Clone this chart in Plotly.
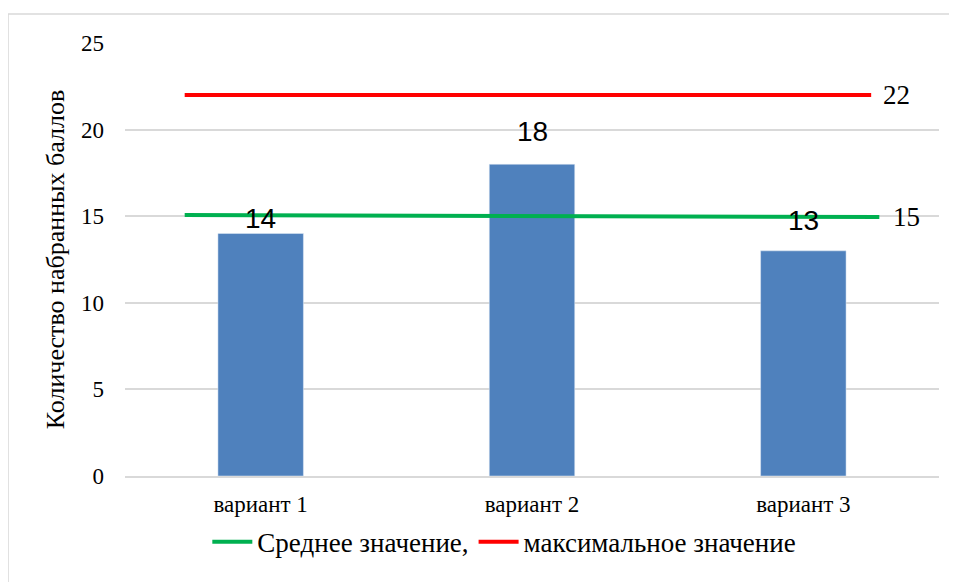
import plotly.graph_objects as go

# data
categories = ["вариант 1", "вариант 2", "вариант 3"]
scores = [14, 18, 13]

mean_x = [-0.28, 2.28]
mean_y = [15.07, 14.95]
mean_label = "15"

max_x = [-0.28, 2.25]
max_y = [22, 22]
max_label = "22"

y_ticks = [0, 5, 10, 15, 20, 25]

SERIF = "Liberation Serif"
SANS = "Liberation Sans"

fig = go.Figure()

fig.add_trace(go.Bar(
    x=list(range(len(categories))),
    y=scores,
    width=0.315,
    marker=dict(color="#4f81bd"),
    showlegend=False,
))

fig.add_trace(go.Scatter(
    x=mean_x, y=mean_y, mode="lines",
    line=dict(color="#00b050", width=4),
    name="Среднее значение,",
))

fig.add_trace(go.Scatter(
    x=max_x, y=max_y, mode="lines",
    line=dict(color="#ff0000", width=4),
    name="максимальное значение",
))

# labels at the right end of the lines
for xs, ys, lab, dx in [(mean_x, mean_y, mean_label, 12), (max_x, max_y, max_label, 10)]:
    fig.add_annotation(
        x=xs[-1], y=ys[-1], text=lab, showarrow=False,
        xanchor="left", xshift=dx,
        font=dict(family=SERIF, size=27, color="black"),
    )

# bar value labels
label_shift = [-2, 15, 13]
for i, v in enumerate(scores):
    fig.add_annotation(
        x=i, y=v, text=str(v), showarrow=False,
        yanchor="bottom", yshift=label_shift[i],
        font=dict(family=SANS, size=28, color="black"),
    )

# outer border
fig.add_shape(
    type="rect", xref="paper", yref="paper",
    x0=-0.1437, x1=1.1, y0=-0.4, y1=1.067,
    line=dict(color="#d9d9d9", width=1.5),
    fillcolor="rgba(0,0,0,0)", layer="below",
)

fig.update_layout(
    width=949,
    height=574,
    margin=dict(l=117, r=18, t=35, b=106, autoexpand=False),
    plot_bgcolor="white",
    paper_bgcolor="white",
    font=dict(family=SERIF, color="black"),
    xaxis=dict(
        range=[-0.5, 2.5],
        tickvals=list(range(len(categories))),
        ticktext=categories,
        tickfont=dict(family=SERIF, size=23),
        showgrid=False,
        zeroline=False,
        showline=True,
        linecolor="#d9d9d9",
        linewidth=1.5,
        ticks="",
        ticklabelstandoff=7,
        automargin=False,
    ),
    yaxis=dict(
        range=[0, 25],
        tickvals=y_ticks,
        tickfont=dict(family=SERIF, size=23),
        gridcolor="#d9d9d9",
        gridwidth=1.5,
        zeroline=False,
        showline=False,
        ticks="",
        ticklabelstandoff=20,
        automargin=False,
        title=dict(text="Количество набранных баллов",
                   font=dict(family=SERIF, size=26), standoff=8),
    ),
    legend=dict(
        orientation="h",
        x=0.466, xanchor="center",
        y=-0.153, yanchor="middle",
        font=dict(family=SERIF, size=27),
        itemwidth=40,
    ),
)

fig.write_html("out.html")
